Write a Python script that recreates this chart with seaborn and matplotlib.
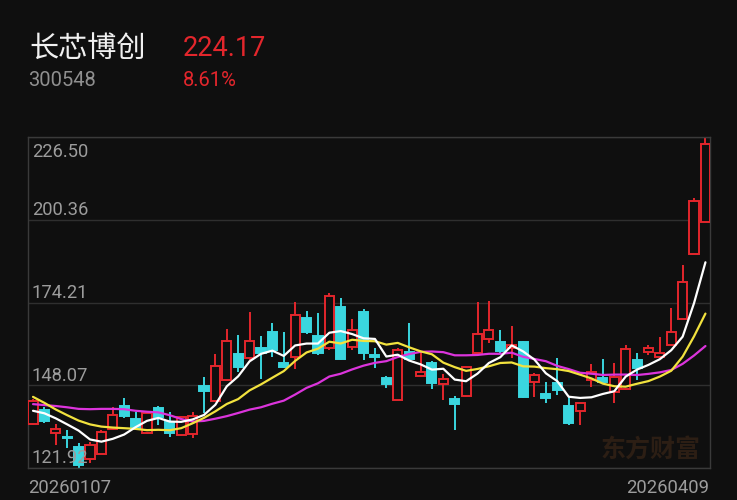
import numpy as np
import pandas as pd
import seaborn as sns
import matplotlib.pyplot as plt

# daily candles 20260107 .. 20260409 (60 sessions)
opens = [135.8, 140.2, 133.0, 131.8, 128.5, 124.7, 126.5, 134.1, 141.5, 137.4,
         132.9, 140.9, 136.5, 132.3, 132.6, 147.8, 143.2, 149.7, 157.9, 156.6,
         159.7, 165.0, 155.0, 157.1, 169.2, 163.6, 159.7, 172.7, 160.2, 171.3,
         157.6, 150.3, 143.4, 158.7, 150.9, 155.0, 148.5, 143.6, 144.7, 158.2,
         162.6, 161.8, 159.7, 161.8, 149.2, 145.3, 148.9, 141.5, 140.0, 149.7,
         150.3, 146.0, 146.8, 156.0, 158.7, 156.9, 160.8, 168.9, 189.5, 199.5]
highs = [143.6, 141.2, 135.8, 133.9, 129.8, 130.2, 134.0, 141.2, 143.9, 139.7,
         139.6, 141.5, 139.7, 138.3, 139.7, 150.8, 157.9, 165.7, 163.9, 171.3,
         163.6, 167.6, 165.0, 174.5, 171.6, 170.8, 177.3, 175.5, 168.9, 172.1,
         159.7, 151.0, 159.9, 167.8, 158.7, 155.8, 151.6, 144.7, 154.0, 174.5,
         174.8, 165.5, 166.8, 162.0, 151.8, 149.2, 156.6, 144.4, 142.5, 154.8,
         156.3, 155.0, 160.8, 158.2, 160.8, 163.2, 172.4, 186.1, 207.1, 226.50]
lows = [135.5, 136.1, 129.2, 128.1, 121.92, 123.4, 126.2, 133.9, 137.6, 133.9,
        132.6, 135.5, 131.8, 132.0, 131.3, 139.2, 142.9, 149.5, 152.3, 156.0,
        149.9, 156.9, 153.4, 153.1, 164.2, 157.6, 159.2, 156.1, 159.2, 156.1,
        153.4, 147.1, 143.3, 156.1, 150.8, 146.8, 143.4, 133.9, 144.5, 157.9,
        161.5, 157.9, 156.6, 144.0, 144.2, 142.4, 145.0, 135.5, 135.5, 147.6,
        148.7, 142.4, 146.6, 149.7, 157.6, 156.6, 160.5, 168.9, 189.5, 199.5]
closes = [143.2, 136.9, 134.2, 131.5, 122.9, 129.2, 133.4, 138.7, 138.3, 134.5,
          139.2, 138.0, 132.9, 137.9, 138.3, 146.3, 154.1, 162.0, 153.7, 162.0,
          158.1, 159.2, 153.7, 170.2, 165.0, 158.1, 176.3, 156.3, 165.5, 158.3,
          157.1, 148.5, 159.2, 156.3, 152.3, 148.7, 149.9, 142.1, 153.7, 164.3,
          165.5, 159.0, 160.8, 144.2, 151.3, 143.9, 146.6, 136.2, 142.3, 152.3,
          149.2, 150.8, 159.4, 153.4, 159.7, 158.2, 165.0, 180.8, 206.40, 224.17]

# moving-average values at the start of the window (history before 0107 is not shown)
ma5_head = [140.0, 139.2, 137.6, 135.7]
ma10_head = [144.4, 142.5, 140.4, 138.6, 136.9, 135.7, 135.0, 134.7, 134.5]
ma20_head = [142.1, 141.8, 141.5, 141.1, 140.6, 140.5, 140.6, 140.6, 140.5, 140.0,
             139.7, 139.5, 138.6, 137.4, 136.6, 136.8, 137.5, 138.3, 139.3]

y_ticks = [121.92, 148.07, 174.21, 200.36, 226.50]
first_date, last_date = "20260107", "20260409"
name, code, last_price, pct = "长芯博创", "300548", "224.17", "8.61%"

BG = "#0f0f0f"
RED = "#e3262c"
CYAN = "#3ad6df"
GRID = "#2f2f2f"
LABEL = "#9c9c9c"

sns.set_theme(style="dark", rc={
    "figure.facecolor": BG, "axes.facecolor": BG,
    "axes.edgecolor": "#3a3a3a", "axes.linewidth": 1.0,
})
plt.rcParams["font.family"] = ["Roboto", "Noto Sans CJK SC", "DejaVu Sans"]

df = pd.DataFrame({"open": opens, "high": highs, "low": lows, "close": closes})
df["idx"] = np.arange(len(df))

ma5 = df["close"].rolling(5).mean()
ma5[:len(ma5_head)] = ma5_head
ma10 = df["close"].rolling(10).mean()
ma10[:len(ma10_head)] = ma10_head
ma20 = df["close"].rolling(20).mean()
ma20[:len(ma20_head)] = ma20_head

ma_df = pd.concat([
    pd.DataFrame({"idx": df["idx"], "value": ma20, "ma": "MA20"}),
    pd.DataFrame({"idx": df["idx"], "value": ma10, "ma": "MA10"}),
    pd.DataFrame({"idx": df["idx"], "value": ma5, "ma": "MA5"}),
])

W, H = 737, 500
fig = plt.figure(figsize=(W / 100, H / 100), dpi=100)
ax = fig.add_axes([28 / W, 1 - 468 / H, (710 - 28) / W, (468 - 137) / H])

# watermark sits under the candles
fig.text(651 / W, 1 - 450 / H, "东方财富", fontsize=18, fontweight="bold",
         color="#2c1e14", ha="center", va="center",
         family=["Noto Sans CJK SC", "DejaVu Sans"])

up = df["close"] >= df["open"]
colors = np.where(up, RED, CYAN)

ax.vlines(df["idx"], df["low"], df["high"], colors=colors, linewidth=1.4, zorder=2)
body = (df["close"] - df["open"]).abs().clip(lower=0.35)
ax.bar(df["idx"], body, bottom=df[["open", "close"]].min(axis=1), width=0.8,
       color=np.where(up, BG, CYAN), edgecolor=colors, linewidth=1.4, zorder=3)

sns.lineplot(data=ma_df, x="idx", y="value", hue="ma",
             palette={"MA5": "#ffffff", "MA10": "#f2e23e", "MA20": "#dc34dc"},
             linewidth=1.6, legend=False, ax=ax, zorder=4)

ax.set_xlim(-0.44, 59.4)
ax.set_ylim(y_ticks[0], y_ticks[-1])
ax.set_yticks(y_ticks)
ax.set_xticks([])
ax.grid(True, axis="y", color=GRID, linewidth=1.0)
ax.tick_params(left=False, labelleft=False, bottom=False, labelbottom=False)
ax.set_xlabel("")
ax.set_ylabel("")
ax.patch.set_alpha(0)
for s in ax.spines.values():
    s.set_visible(True)
    s.set_color("#3a3a3a")

px = 0.316  # price per pixel
for v in y_ticks:
    yb = v + 4.5 * px if v != y_ticks[-1] else v - 19.7 * px
    ax.text(0.0055, yb, f"{v:.2f}", transform=ax.get_yaxis_transform(),
            ha="left", va="baseline", fontsize=13.2, color=LABEL, zorder=5)

# header
fig.text(29 / W, 1 - 57 / H, name, fontsize=21, color="#f0f0f0", va="baseline",
         family=["Noto Sans CJK SC", "DejaVu Sans"])
fig.text(183 / W, 1 - 56.5 / H, last_price, fontsize=19.5, color=RED, va="baseline")
fig.text(28 / W, 1 - 86.5 / H, code, fontsize=14.5, color="#8f8f8f", va="baseline")
fig.text(183 / W, 1 - 86.5 / H, pct, fontsize=14.5, color=RED, va="baseline")

# dates under the plot
fig.text(28 / W, 1 - 493 / H, first_date, fontsize=13.3, color=LABEL, va="baseline")
fig.text(709 / W, 1 - 493 / H, last_date, fontsize=13.3, color=LABEL, va="baseline",
         ha="right")

fig.savefig("out.png", dpi=100, facecolor=BG)
